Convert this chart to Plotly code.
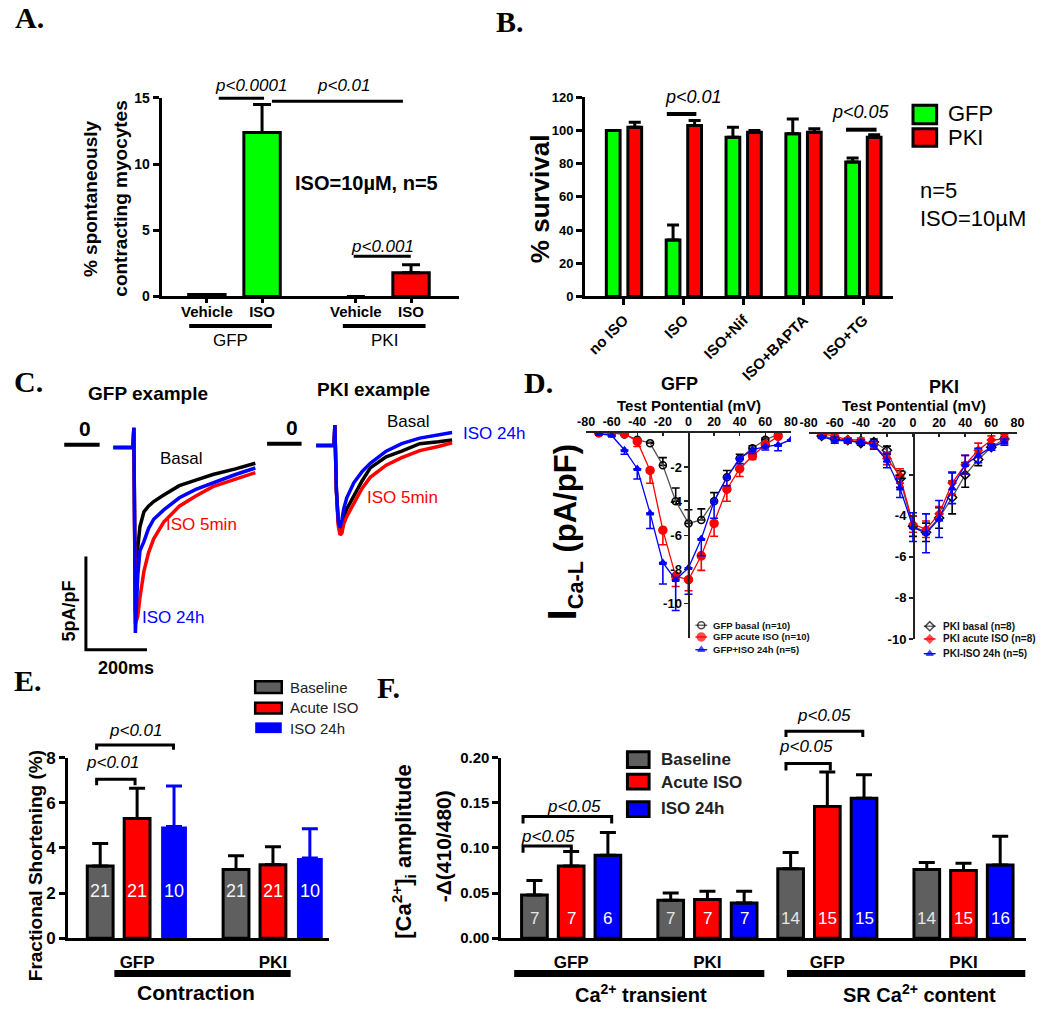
import plotly.graph_objects as go

W, H = 1050, 1012
SANS = "Arial, 'Liberation Sans', sans-serif"
SERIF = "'Times New Roman', 'Liberation Serif', serif"
GREEN, RED, BLUE, GRAY = "#00ff00", "#ff0000", "#0000ff", "#5f5f5f"

# ======================= DATA =======================
# Panel A: % spontaneously contracting myocytes
A_groups = ["GFP", "PKI"]
A_conditions = ["Vehicle", "ISO"]
A_gfp_mean = [0.15, 12.4]
A_gfp_sem = [0.0, 2.1]
A_pki_mean = [0.0, 1.8]
A_pki_sem = [0.0, 0.6]

# Panel B: % survival
B_treatments = ["no ISO", "ISO", "ISO+Nif", "ISO+BAPTA", "ISO+TG"]
B_gfp_mean = [100, 34, 96, 98, 81]
B_gfp_sem = [0, 9, 6, 9, 2.5]
B_pki_mean = [102, 103, 99, 99, 96]
B_pki_sem = [3, 3, 1, 2, 1.5]

# Panel C: example current traces (time ms, current pA/pF)
C_gfp_time = [0, 64, 67, 72, 76, 80, 87, 100, 115, 132, 165, 216, 270, 326, 400, 465]
C_gfp_basal = [-0.15, -0.15, 0.9, -9.0, -7.0, -5.5, -4.4, -3.6, -3.3, -3.05, -2.7, -2.2, -1.9, -1.6, -1.3, -1.0]
C_gfp_iso5 = [-0.15, -0.15, 0.9, -9.6, -9.4, -9.2, -8.2, -6.8, -5.8, -5.05, -4.15, -3.3, -2.75, -2.25, -1.85, -1.5]
C_gfp_iso24 = [-0.15, -0.15, 0.9, -10.1, -8.5, -7.0, -5.7, -5.2, -4.5, -4.0, -3.5, -2.85, -2.4, -2.05, -1.6, -1.25]
C_pki_time = [0, 58, 61, 66, 72, 78, 84, 90, 100, 123, 150, 177, 229, 280, 339, 400, 445]
C_pki_basal = [-0.1, -0.1, 1.0, -2.5, -4.2, -4.7, -4.5, -4.0, -3.5, -2.8, -2.0, -1.3, -0.7, -0.4, 0.0, 0.1, 0.2]
C_pki_iso5 = [-0.1, -0.1, 1.0, -2.5, -4.4, -4.9, -4.8, -4.3, -3.9, -3.2, -2.4, -1.8, -1.15, -0.75, -0.37, -0.15, 0.05]
C_pki_iso24 = [-0.1, -0.1, 1.0, -2.5, -4.1, -4.5, -4.1, -3.5, -2.9, -2.1, -1.5, -1.05, -0.4, 0.0, 0.3, 0.5, 0.6]

# Panel D: I-V relations
D_voltage = [-70, -60, -50, -40, -30, -20, -10, 0, 10, 20, 30, 40, 50, 60, 70]
D_voltage_ext = [-70, -60, -50, -40, -30, -20, -10, 0, 10, 20, 30, 40, 50, 60, 70, 80]
D_voltage_ticks = [-80, -60, -40, -20, 0, 20, 40, 60, 80]
D_current_ticks = [-2, -4, -6, -8, -10]
D_gfp_basal = [0.0, 0.0, -0.1, -0.4, -0.6, -1.9, -4.0, -5.3, -5.1, -4.0, -2.6, -1.5, -0.9, -0.4, -0.1]
D_gfp_basal_sem = [0, 0, 0, 0.05, 0.05, 0.45, 0.77, 0.8, 0.65, 0.5, 0.4, 0.25, 0.15, 0.1, 0]
D_gfp_acute = [0.0, 0.0, -0.05, -0.5, -2.2, -5.7, -8.4, -8.6, -7.2, -5.3, -3.3, -2.1, -1.35, -0.7, -0.2]
D_gfp_acute_sem = [0, 0, 0.05, 0.3, 0.75, 0.85, 0.6, 0.65, 0.85, 0.75, 0.7, 0.45, 0.2, 0.1, 0.05]
D_gfp_iso24 = [-0.05, -0.15, -1.0, -2.1, -4.7, -7.6, -8.6, -7.9, -6.2, -4.0, -2.6, -1.5, -1.0, -0.8, -0.7, -0.4]
D_gfp_iso24_sem = [0, 0.05, 0.25, 0.6, 0.9, 1.25, 1.8, 1.55, 1.0, 1.0, 0.5, 0.3, 0.2, 0.2, 0.35, 0]
D_pki_basal = [-0.1, -0.25, -0.3, -0.45, -0.4, -0.8, -2.2, -4.5, -4.8, -4.1, -3.1, -2.0, -1.25, -0.65, -0.25]
D_pki_basal_sem = [0.05, 0.1, 0.1, 0.1, 0.15, 0.2, 0.4, 0.5, 0.45, 0.5, 0.8, 0.6, 0.3, 0.15, 0.1]
D_pki_acute = [0.0, -0.1, -0.3, -0.3, -0.55, -1.2, -2.05, -4.4, -4.65, -3.9, -2.4, -1.5, -0.8, -0.3, -0.25]
D_pki_acute_sem = [0.05, 0.1, 0.1, 0.1, 0.15, 0.3, 0.35, 0.4, 0.4, 0.35, 0.55, 0.45, 0.35, 0.2, 0.2]
D_pki_iso24 = [-0.15, -0.3, -0.35, -0.4, -0.55, -1.3, -2.65, -4.55, -4.85, -4.15, -2.65, -1.5, -1.05, -0.65, -0.4]
D_pki_iso24_sem = [0.05, 0.15, 0.1, 0.1, 0.2, 0.35, 0.45, 0.7, 0.95, 0.9, 0.75, 0.45, 0.35, 0.15, 0.15]
D_gfp_labels = ["GFP basal (n=10)", "GFP acute ISO (n=10)", "GFP+ISO 24h (n=5)"]
D_pki_labels = ["PKI basal (n=8)", "PKI acute ISO (n=8)", "PKI-ISO 24h (n=5)"]

# Panel E: fractional shortening
E_groups = ["GFP", "PKI"]
E_conditions = ["Baseline", "Acute ISO", "ISO 24h"]
E_baseline_mean = [3.2, 3.05]
E_baseline_sem = [1.0, 0.6]
E_acute_mean = [5.3, 3.25]
E_acute_sem = [1.35, 0.8]
E_iso24_mean = [4.95, 3.55]
E_iso24_sem = [1.8, 1.3]
E_baseline_n = [21, 21]
E_acute_n = [21, 21]
E_iso24_n = [10, 10]

# Panel F: Ca transient and SR Ca content
F_groups = ["GFP", "PKI"]
F_tr_baseline_mean = [0.048, 0.042]
F_tr_baseline_sem = [0.016, 0.008]
F_tr_acute_mean = [0.080, 0.043]
F_tr_acute_sem = [0.016, 0.009]
F_tr_iso24_mean = [0.092, 0.039]
F_tr_iso24_sem = [0.025, 0.013]
F_tr_baseline_n = [7, 7]
F_tr_acute_n = [7, 7]
F_tr_iso24_n = [6, 7]
F_sr_baseline_mean = [0.077, 0.076]
F_sr_baseline_sem = [0.018, 0.008]
F_sr_acute_mean = [0.146, 0.075]
F_sr_acute_sem = [0.038, 0.008]
F_sr_iso24_mean = [0.155, 0.081]
F_sr_iso24_sem = [0.026, 0.032]
F_sr_baseline_n = [14, 14]
F_sr_acute_n = [15, 15]
F_sr_iso24_n = [15, 16]

# ======================= LAYOUT CONSTANTS =======================
A_GROUP_POS = [0.0, 2.7]
A_OFFSETS = [-0.5, 0.5]
A_BAR_W = 0.66
B_OFFSET = 0.18
B_BAR_W = 0.23
E_GROUP_POS = [0.0, 3.68]
F_GROUP_POS = [0.0, 3.71]
COND_OFFSETS = [-1, 0, 1]
EF_BAR_W = 0.7
E_N_Y = 2.1
F_N_Y = 0.022

# C trace geometry (pixels per unit)
MS_PX = 0.31
PA_PX = 19.0


def dx(x0, x1):
    return [x0 / W, x1 / W]


def dy(ytop, ybot):
    return [1 - ybot / H, 1 - ytop / H]


fig = go.Figure()
ann = []
shapes = []


def T(x, y, text, size, color="black", xanchor="center", yanchor="middle", angle=0, family=SANS):
    ann.append(dict(x=x / W, y=1 - y / H, xref="paper", yref="paper", text=text, showarrow=False,
                    font=dict(family=family, size=size, color=color), xanchor=xanchor,
                    yanchor=yanchor, textangle=angle))


def L(x0, y0, x1, y1, w=3, color="black"):
    shapes.append(dict(type="line", xref="paper", yref="paper", x0=x0 / W, y0=1 - y0 / H,
                       x1=x1 / W, y1=1 - y1 / H, line=dict(color=color, width=w)))


def P(points, w=3, color="black"):
    d = "M " + " L ".join(f"{x / W:.5f},{1 - y / H:.5f}" for x, y in points)
    shapes.append(dict(type="path", xref="paper", yref="paper", path=d,
                       line=dict(color=color, width=w)))


def R(x0, y0, x1, y1, fill, lw=3):
    shapes.append(dict(type="rect", xref="paper", yref="paper", x0=x0 / W, y0=1 - y1 / H,
                       x1=x1 / W, y1=1 - y0 / H, fillcolor=fill,
                       line=dict(color="black", width=lw)))


def add_bar(x, y, err, color, xa, ya, w, border=True, err_color="black", capw=8):
    lw = [(3 if (border and v != 0) else 0) for v in y]
    fig.add_trace(go.Bar(
        x=x, y=y, width=w, xaxis=xa, yaxis=ya, showlegend=False,
        marker=dict(color=color, line=dict(color="black", width=lw)),
        error_y=dict(type="data", symmetric=False, array=err, arrayminus=[0] * len(err),
                     color=err_color, thickness=3, width=capw)))


# ---------------- Panel A ----------------
for gi, (m, s, c) in enumerate([(A_gfp_mean, A_gfp_sem, GREEN), (A_pki_mean, A_pki_sem, RED)]):
    xs = [A_GROUP_POS[gi] + o for o in A_OFFSETS]
    add_bar(xs, m, s, c, "x", "y", A_BAR_W, capw=9)
A_tickpos = [g + o for g in A_GROUP_POS for o in A_OFFSETS]
A_ticktext = [c for _ in A_groups for c in A_conditions]

# ---------------- Panel B ----------------
B_idx = list(range(len(B_treatments)))
add_bar([i - B_OFFSET for i in B_idx], B_gfp_mean, B_gfp_sem, GREEN, "x2", "y2", B_BAR_W, capw=6)
add_bar([i + B_OFFSET for i in B_idx], B_pki_mean, B_pki_sem, RED, "x2", "y2", B_BAR_W, capw=6)

# ---------------- Panel C ----------------
for t, ys, col in [(C_gfp_time, C_gfp_basal, "black"), (C_gfp_time, C_gfp_iso5, RED),
                   (C_gfp_time, C_gfp_iso24, BLUE)]:
    fig.add_trace(go.Scatter(x=t, y=ys, mode="lines", line=dict(color=col, width=3.5),
                             xaxis="x3", yaxis="y3", showlegend=False))
for t, ys, col in [(C_pki_time, C_pki_basal, "black"), (C_pki_time, C_pki_iso5, RED),
                   (C_pki_time, C_pki_iso24, BLUE)]:
    fig.add_trace(go.Scatter(x=t, y=ys, mode="lines", line=dict(color=col, width=3.5),
                             xaxis="x4", yaxis="y4", showlegend=False))


# ---------------- Panel D ----------------
def d_trace(x, y, err, direction, symbol, size, mcolor, lcolor, xa, ya):
    n = len(err)
    if direction == "up":
        ey = dict(type="data", symmetric=False, array=err, arrayminus=[0] * n)
    elif direction == "down":
        ey = dict(type="data", symmetric=False, array=[0] * n, arrayminus=err)
    else:
        ey = dict(type="data", array=err)
    ey.update(color=mcolor, thickness=1.6, width=4)
    fig.add_trace(go.Scatter(
        x=x, y=y, mode="lines+markers", xaxis=xa, yaxis=ya, showlegend=False,
        line=dict(color=lcolor, width=1.3),
        marker=dict(symbol=symbol, size=size, color=mcolor, line=dict(color=mcolor, width=1.5)),
        error_y=ey))


d_trace(D_voltage, D_gfp_basal, D_gfp_basal_sem, "up", "circle-open", 7, "black", "#555", "x5", "y5")
d_trace(D_voltage, D_gfp_acute, D_gfp_acute_sem, "down", "circle", 8, RED, RED, "x5", "y5")
d_trace(D_voltage_ext, D_gfp_iso24, D_gfp_iso24_sem, "down", "triangle-up", 6, BLUE, BLUE, "x5", "y5")
d_trace(D_voltage, D_pki_basal, D_pki_basal_sem, "both", "diamond-open", 7, "black", "#555", "x6", "y6")
d_trace(D_voltage, D_pki_acute, D_pki_acute_sem, "both", "diamond", 6, RED, RED, "x6", "y6")
d_trace(D_voltage, D_pki_iso24, D_pki_iso24_sem, "both", "triangle-up", 6, BLUE, BLUE, "x6", "y6")

# D legends (pixel overlay axis for the legend symbols)
D_leg_styles = [("circle-open", 7, "black", "#555"), ("circle", 8, RED, RED), ("triangle-up", 6, BLUE, BLUE)]
D_pki_leg_styles = [("diamond-open", 7, "black", "#555"), ("diamond", 6, RED, RED), ("triangle-up", 6, BLUE, BLUE)]
for (x0, x1, xt, rows, labels, styles, fs) in [
        (697, 709, 713, [628, 640, 653], D_gfp_labels, D_leg_styles, 9.5),
        (929, 941, 946, [629, 642, 657], D_pki_labels, D_pki_leg_styles, 10)]:
    for yy, lab, (sym, sz, mc, lc) in zip(rows, labels, styles):
        fig.add_trace(go.Scatter(x=[x0, (x0 + x1) / 2, x1], y=[yy, yy, yy], mode="lines+markers",
                                 xaxis="x10", yaxis="y10", showlegend=False,
                                 line=dict(color=lc, width=1.3),
                                 marker=dict(symbol=sym, size=[0, sz, 0], color=mc,
                                             line=dict(color=mc, width=1.5))))
        T(xt, yy, f"<b>{lab}</b>", fs, color="#111", xanchor="left")

# ---------------- Panel E ----------------
for means, sems, ns, col, border, ecol, off in [
        (E_baseline_mean, E_baseline_sem, E_baseline_n, GRAY, True, "black", COND_OFFSETS[0]),
        (E_acute_mean, E_acute_sem, E_acute_n, RED, True, "black", COND_OFFSETS[1]),
        (E_iso24_mean, E_iso24_sem, E_iso24_n, BLUE, False, BLUE, COND_OFFSETS[2])]:
    xs = [g + off for g in E_GROUP_POS]
    add_bar(xs, means, sems, col, "x7", "y7", EF_BAR_W, border=border, err_color=ecol, capw=8)
    for xv, nv in zip(xs, ns):
        ann.append(dict(x=xv, y=E_N_Y, xref="x7", yref="y7", text=str(nv), showarrow=False,
                        font=dict(family=SANS, size=18, color="#f2f2f2" if col == GRAY else "white")))

# ---------------- Panel F ----------------
for xa, ya, sets in [
        ("x8", "y8", [(F_tr_baseline_mean, F_tr_baseline_sem, F_tr_baseline_n, GRAY),
                      (F_tr_acute_mean, F_tr_acute_sem, F_tr_acute_n, RED),
                      (F_tr_iso24_mean, F_tr_iso24_sem, F_tr_iso24_n, BLUE)]),
        ("x9", "y9", [(F_sr_baseline_mean, F_sr_baseline_sem, F_sr_baseline_n, GRAY),
                      (F_sr_acute_mean, F_sr_acute_sem, F_sr_acute_n, RED),
                      (F_sr_iso24_mean, F_sr_iso24_sem, F_sr_iso24_n, BLUE)])]:
    for (means, sems, ns, col), off in zip(sets, COND_OFFSETS):
        xs = [g + off for g in F_GROUP_POS]
        add_bar(xs, means, sems, col, xa, ya, EF_BAR_W, capw=8)
        for xv, nv in zip(xs, ns):
            ann.append(dict(x=xv, y=F_N_Y, xref=xa, yref=ya, text=str(nv), showarrow=False,
                            font=dict(family=SANS, size=17,
                                      color="#e6e6e6" if col == GRAY else "white")))


# ======================= AXES =======================
def ax(**kw):
    d = dict(showgrid=False, zeroline=False, showline=True, linecolor="black", linewidth=3,
             ticks="outside", tickcolor="black", tickwidth=3, ticklen=6, fixedrange=True,
             tickfont=dict(family=SANS, size=14, color="black", weight="bold"))
    d.update(kw)
    return d


def thin(**kw):
    d = ax(linewidth=1.5, linecolor="#222", tickwidth=1.5, ticklen=4, tickcolor="#222",
           tickfont=dict(family=SANS, size=12.5, color="black", weight="bold"))
    d.update(kw)
    return d


hidden = dict(visible=False, fixedrange=True)
D_vtext = [str(v) for v in D_voltage_ticks]
D_ctext = [str(v) for v in D_current_ticks]

# C geometry
C1_T0_PX, C1_ZERO_PX = 106, 444
C2_T0_PX, C2_ZERO_PX = 312, 443
c1x = [(38 - C1_T0_PX) / MS_PX, (261 - C1_T0_PX) / MS_PX]
c1y = [(C1_ZERO_PX - 660) / PA_PX, (C1_ZERO_PX - 410) / PA_PX]
c2x = [(250 - C2_T0_PX) / MS_PX, (473 - C2_T0_PX) / MS_PX]
c2y = [(C2_ZERO_PX - 560) / PA_PX, (C2_ZERO_PX - 405) / PA_PX]

layout_axes = dict(
    xaxis=ax(domain=dx(155, 457), range=[-1.32, 4.07], anchor="y", tickvals=A_tickpos,
             ticktext=A_ticktext, ticklen=4, ticklabelstandoff=-4,
             tickfont=dict(family=SANS, size=15, color="black", weight="bold")),
    yaxis=ax(domain=dy(90.7, 293), range=[0, 15], anchor="x", tickvals=[0, 5, 10, 15]),
    xaxis2=ax(domain=dx(585, 898), range=[-0.65, 4.5], anchor="y2", tickvals=B_idx,
              ticktext=B_treatments, tickangle=-45,
              tickfont=dict(family=SANS, size=15, color="black", weight="bold")),
    yaxis2=ax(domain=dy(90, 293), range=[0, 120], anchor="x2", dtick=20,
              tickfont=dict(family=SANS, size=13, color="black", weight="bold")),
    xaxis3=dict(hidden, domain=dx(38, 261), range=c1x, anchor="y3"),
    yaxis3=dict(hidden, domain=dy(410, 660), range=c1y, anchor="x3"),
    xaxis4=dict(hidden, domain=dx(250, 473), range=c2x, anchor="y4"),
    yaxis4=dict(hidden, domain=dy(405, 560), range=c2y, anchor="x4"),
    xaxis5=thin(domain=dx(586, 794), range=[-80, 80], side="top", anchor="y5",
                tickvals=D_voltage_ticks, ticktext=D_vtext, ticks="inside", ticklen=3),
    yaxis5=thin(domain=dy(432, 640.8), range=[-12, 0], anchor="free", position=690 / W,
                tickvals=D_current_ticks, ticktext=D_ctext,
                tickfont=dict(family=SANS, size=13, color="black", weight="bold")),
    xaxis6=thin(domain=dx(812, 1024), range=[-80, 80], side="top", anchor="y6",
                tickvals=D_voltage_ticks, ticktext=D_vtext, ticks="inside", ticklen=3),
    yaxis6=thin(domain=dy(433, 642), range=[-10, 0], anchor="free", position=918 / W,
                tickvals=D_current_ticks, ticktext=D_ctext,
                tickfont=dict(family=SANS, size=13, color="black", weight="bold")),
    xaxis7=ax(domain=dx(60, 325), range=[-1.87, 5.2], anchor="y7", tickvals=E_GROUP_POS,
              ticktext=E_groups, ticks="", ticklabelstandoff=6,
              tickfont=dict(family=SANS, size=17, color="black", weight="bold")),
    yaxis7=ax(domain=dy(763, 947), range=[0, 8], anchor="x7", dtick=2,
              tickfont=dict(family=SANS, size=17, color="black", weight="bold")),
    xaxis8=ax(domain=dx(500, 778.6), range=[-1.9, 5.57], anchor="y8", tickvals=F_GROUP_POS,
              ticktext=F_groups, ticks="", ticklabelstandoff=6,
              tickfont=dict(family=SANS, size=17, color="black", weight="bold")),
    yaxis8=ax(domain=dy(763, 947), range=[0, 0.2], anchor="x8", dtick=0.05, tickformat=".2f",
              tickfont=dict(family=SANS, size=15, color="black", weight="bold")),
    xaxis9=ax(domain=dx(768, 1033), range=[-1.69, 5.42], anchor="y9", tickvals=F_GROUP_POS,
              ticktext=F_groups, ticks="", ticklabelstandoff=6,
              tickfont=dict(family=SANS, size=17, color="black", weight="bold")),
    yaxis9=dict(hidden, domain=dy(763, 947), range=[0, 0.2], anchor="x9"),
    xaxis10=dict(hidden, domain=[0, 1], range=[0, W], anchor="y10"),
    yaxis10=dict(hidden, domain=[0, 1], range=[H, 0], anchor="x10"),
)

# ======================= TEXT & SHAPES =======================
# Panel letters
for lx, ly, lt in [(4, 9, "A."), (493, 13, "B."), (3, 380, "C."), (521, 381, "D."),
                   (3, 684, "E."), (372, 691, "F.")]:
    T(lx, ly, f"<b>{lt}</b>", 30, xanchor="left", family=SERIF)

# A
T(83, 193, "<b>% spontaneously</b>", 19, angle=-90)
T(113, 193, "<b>contracting myocytes</b>", 19, angle=-90)
T(246, 78, "<i>p&lt;0.0001</i>", 17)
L(213, 91, 259, 91, 3)
T(340, 78, "<i>p&lt;0.01</i>", 17)
L(267, 94, 400, 94, 3)
T(288, 177, "<b>ISO=10µM, n=5</b>", 20, xanchor="left")
T(379, 242, "<i>p&lt;0.001</i>", 17)
L(350, 252, 408, 252, 3)
L(183, 323, 267, 323, 4)
L(339, 323, 423, 323, 4)
T(225, 338, "GFP", 17)
T(381, 338, "PKI", 17)

# B
T(540, 193, "<b>% survival</b>", 26, angle=-90)
T(695, 90, "<i>p&lt;0.01</i>", 18)
L(668, 107, 698, 107, 4)
T(865, 105, "<i>p&lt;0.05</i>", 18)
L(850, 123, 881, 123, 4)
R(918, 98, 942, 117, GREEN)
R(918, 122, 942, 140, RED)
T(952, 107, "GFP", 22, xanchor="left")
T(952, 131, "PKI", 22, xanchor="left")
T(923, 185, "n=5", 22, xanchor="left")
T(923, 213, "ISO=10µM", 22, xanchor="left")

# C
T(141, 392, "<b>GFP example</b>", 19)
T(370, 388, "<b>PKI example</b>", 19)
T(77, 428, "<b>0</b>", 21)
T(287, 426, "<b>0</b>", 21)
T(175, 458, "Basal", 17)
T(157, 525, "ISO 5min", 17, color=RED, xanchor="left")
T(133, 620, "ISO 24h", 17, color=BLUE, xanchor="left")
T(406, 420, "Basal", 17)
T(459, 433, "ISO 24h", 17, color=BLUE, xanchor="left")
T(362, 498, "ISO 5min", 17, color=RED, xanchor="left")
T(61, 614, "<b>5pA/pF</b>", 18, angle=-90)
T(119, 672, "<b>200ms</b>", 18)
# zero-current reference bars and scale bars (in trace data units)
shapes.append(dict(type="line", xref="x3", yref="y3", x0=-161, x1=-45, y0=0, y1=0,
                   line=dict(color="black", width=4)))
shapes.append(dict(type="line", xref="x4", yref="y4", x0=-161, x1=-48, y0=0, y1=0,
                   line=dict(color="black", width=4)))
shapes.append(dict(type="path", xref="x3", yref="y3", path="M -90,-6 L -90,-11 L 110,-11",
                   line=dict(color="black", width=3)))

# D
T(681, 382, "<b>GFP</b>", 18)
T(691, 404, "<b>Test Pontential (mV)</b>", 15)
T(949, 385, "<b>PKI</b>", 18)
T(919, 404, "<b>Test Pontential (mV)</b>", 15)
T(564, 533, "<b><span style='font-size:40px'>I</span><sub>Ca-L</sub> (pA/pF)</b>", 31, angle=-90)

# E
R(250, 685, 277, 697, GRAY, 2.5)
R(250, 707, 277, 718, RED, 2.5)
shapes.append(dict(type="rect", xref="paper", yref="paper", x0=250 / W, x1=277 / W,
                   y0=1 - 738 / H, y1=1 - 727 / H, fillcolor=BLUE, line=dict(width=0)))
T(283, 691, "Baseline", 15, color="#222", xanchor="left")
T(283, 712, "Acute ISO", 15, color="#222", xanchor="left")
T(283, 733, "ISO 24h", 15, color="#222", xanchor="left")
T(128, 735, "<i>p&lt;0.01</i>", 17)
P([(89, 755), (89, 750), (167, 750), (167, 755)], 3)
T(105, 768, "<i>p&lt;0.01</i>", 17)
P([(89, 791), (89, 785), (128, 785), (128, 791)], 3)
L(107, 983, 286, 983, 7)
T(190, 1002, "<b>Contraction</b>", 21)
T(27, 873, "<b>Fractional Shortening (%)</b>", 19, angle=-90)

# F
R(628, 757, 650, 773, GRAY, 3)
R(628, 780, 650, 795, RED, 3)
R(628, 808, 650, 823, BLUE, 3)
T(660, 765, "<b>Baseline</b>", 17, color="#222", xanchor="left")
T(660, 788, "<b>Acute ISO</b>", 17, color="#222", xanchor="left")
T(660, 815, "<b>ISO 24h</b>", 17, color="#222", xanchor="left")
T(574, 813, "<i>p&lt;0.05</i>", 17)
P([(522, 830), (522, 823), (612, 823), (612, 830)], 3)
T(547, 843, "<i>p&lt;0.05</i>", 17)
P([(522, 860), (522, 853), (571, 853), (571, 860)], 3)
T(828, 720, "<i>p&lt;0.05</i>", 17)
P([(789, 742), (789, 736), (867, 736), (867, 742)], 3)
T(809, 752, "<i>p&lt;0.05</i>", 17)
P([(789, 776), (789, 769), (834, 769), (834, 776)], 3)
L(513, 983, 767, 983, 7)
L(790, 983, 1032, 983, 7)
T(642, 1003, "<b>Ca<sup>2+</sup> transient</b>", 20)
T(925, 1003, "<b>SR Ca<sup>2+</sup> content</b>", 20)
T(401, 858, "<b>[Ca<sup>2+</sup>]<sub>i</sub> amplitude</b>", 22, angle=-90)
T(442, 853, "<b>-Δ(410/480)</b>", 21, angle=-90)

fig.update_layout(
    width=W, height=H, margin=dict(l=0, r=0, t=0, b=0),
    paper_bgcolor="white", plot_bgcolor="rgba(0,0,0,0)",
    barmode="overlay", showlegend=False,
    font=dict(family=SANS, color="black"),
    annotations=ann, shapes=shapes, **layout_axes)

fig.write_html(
    "out.html",
    config={"displayModeBar": False, "staticPlot": True},
    post_script=("document.documentElement.style.margin='0px';"
                 "document.body.style.margin='0px';"
                 "document.body.style.overflow='hidden';"
                 "document.documentElement.style.overflow='hidden';"))
